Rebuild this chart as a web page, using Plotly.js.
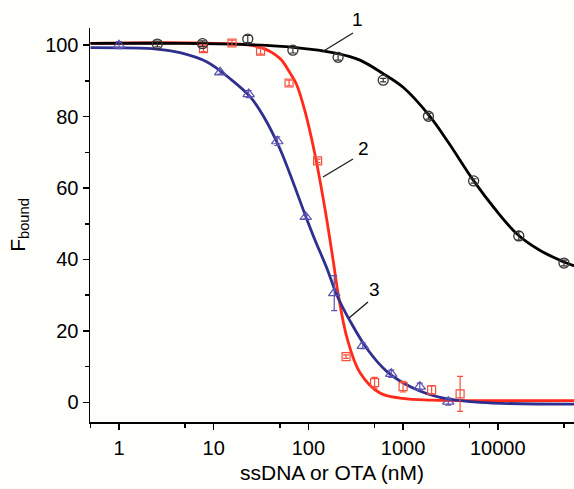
<!DOCTYPE html>
<html>
<head>
<meta charset="utf-8">
<script src="https://cdn.plot.ly/plotly-3.0.1.min.js"></script>
<style>html,body{margin:0;padding:0;background:#fefefb;}#chart{width:574px;height:489px;}</style>
</head>
<body>
<div id="chart"></div>
<script>
// Series 1 (black circles)
const conc1 = [2.54, 7.62, 22.9, 68.6, 206, 617, 1852, 5556, 16667, 50000];
const f1    = [100.3, 100.4, 101.7, 98.6, 96.6, 90.2, 80.1, 62.0, 46.6, 39.0];
const err1  = [0.8, 0.8, 1.0, 0.8, 0.8, 0.5, 0.8, 0.6, 1.2, 0.8];
// Series 2 (red squares)
const conc2 = [7.8, 15.6, 31.25, 62.5, 125, 250, 500, 1000, 2000, 4000];
const f2    = [99.0, 100.6, 98.3, 89.4, 67.6, 12.8, 5.5, 4.4, 3.5, 2.4];
const err2  = [0.8, 0.8, 0.8, 0.8, 0.5, 0.5, 1.5, 1.5, 1.2, 4.9];
// Series 3 (blue triangles)
const conc3 = [1, 11.7, 23.4, 46.9, 93.8, 187.5, 375, 750, 1500, 3000];
const f3    = [100.0, 92.4, 86.3, 73.1, 51.9, 30.6, 15.8, 8.0, 4.4, 0.2];
const err3  = [1.0, 0.5, 1.0, 1.2, 0.5, 4.9, 0.8, 1.0, 1.0, 1.0];
// Fitted curves
const fitX1 = [0.5, 5, 20, 70, 200, 350, 600, 1000, 1900, 3000, 5500, 9300, 16300, 28000, 50000, 64000];
const fitY1 = [100.5, 100.5, 100.2, 99.4, 97.7, 95.8, 92.2, 88.2, 80.2, 72.8, 62.2, 54.2, 46.9, 42.5, 39.3, 38.2];
const fitX2 = [0.5, 10, 30, 50, 62, 75, 92, 117, 150, 182, 206, 256, 351, 570, 927, 2070, 6460, 64000];
const fitY2 = [100.5, 100.5, 99.5, 96.3, 92.8, 89.0, 81.5, 69.5, 54.0, 40.0, 30.5, 18.0, 8.3, 2.6, 1.2, 0.6, 0.5, 0.5];
const fitX3 = [0.5, 2.5, 4.4, 8.5, 14.9, 24.2, 33.2, 50, 96.7, 117, 157, 200, 275, 416, 676, 1273, 2455, 6460, 64000];
const fitY3 = [99.3, 98.9, 97.9, 95.3, 90.6, 85.6, 80.3, 71.0, 51.1, 45.5, 37.5, 30.0, 22.8, 15.0, 8.6, 4.0, 1.4, 0.0, -0.5];
// Axis ticks
const xTicks = [1, 10, 100, 1000, 10000];
const xTickText = ['1', '10', '100', '1000', '10000'];
const xMinor = [0.5, 5, 50, 500, 5000, 50000];
const yTicks = [0, 20, 40, 60, 80, 100];
const labels = ['1', '2', '3'];

const lineW = 2.8;
const traces = [
  {x: fitX2, y: fitY2, mode: 'lines', line: {color: '#ff2a1a', width: lineW, shape: 'spline'}, hoverinfo: 'skip'},
  {x: fitX3, y: fitY3, mode: 'lines', line: {color: '#2f2f8f', width: lineW, shape: 'spline'}, hoverinfo: 'skip'},
  {x: fitX1, y: fitY1, mode: 'lines', line: {color: '#000000', width: lineW, shape: 'spline'}, hoverinfo: 'skip'},
  {x: conc2, y: f2, mode: 'markers',
   marker: {symbol: 'square-open', size: 8, color: '#f5503f', line: {width: 1.2}},
   error_y: {type: 'data', array: err2, color: '#f5503f', thickness: 1.2, width: 3}},
  {x: conc3, y: f3, mode: 'markers',
   marker: {symbol: 'triangle-up-open', size: 10, color: '#5b52b0', line: {width: 1.2}},
   error_y: {type: 'data', array: err3, color: '#5b52b0', thickness: 1.2, width: 3}},
  {x: conc1, y: f1, mode: 'markers',
   marker: {symbol: 'circle-open', size: 10, color: '#333333', line: {width: 1.3}},
   error_y: {type: 'data', array: err1, color: '#333333', thickness: 1.2, width: 3}}
];

const L = 90, R = 0, T = 28, B = 67, W = 574, H = 489;
const pw = W - L - R, ph = H - T - B;
const px = v => (v - L) / pw;
const py = v => (H - B - v) / ph;

const labelPos = [[357, 19], [363, 148], [374, 289]];
const leaderLines = [[322, 52, 353, 33], [323, 177, 353, 159], [349, 318, 368, 302]];

const annotations = labels.map((t, i) => ({
  text: t, xref: 'paper', yref: 'paper', x: px(labelPos[i][0]), y: py(labelPos[i][1]),
  showarrow: false, xanchor: 'center', yanchor: 'middle',
  font: {family: 'Liberation Sans, Arial, sans-serif', size: 19, color: '#000'}
}));
const shapes = leaderLines.map(s => ({
  type: 'line', xref: 'paper', yref: 'paper',
  x0: px(s[0]), y0: py(s[1]), x1: px(s[2]), y1: py(s[3]),
  line: {color: '#222', width: 1.4}
}));

const layout = {
  width: W, height: H,
  margin: {l: L, r: R, t: T, b: B},
  paper_bgcolor: '#fefefb', plot_bgcolor: '#fefefb',
  showlegend: false,
  font: {family: 'Liberation Sans, Arial, sans-serif', color: '#000'},
  xaxis: {
    type: 'log', range: [Math.log10(0.494), Math.log10(63800)],
    tickvals: xTicks, ticktext: xTickText,
    ticks: 'outside', ticklen: 6, tickwidth: 1.5, tickcolor: '#000',
    minor: {tickvals: xMinor, ticks: 'outside', ticklen: 4, tickwidth: 1.5, tickcolor: '#000'},
    showline: true, linecolor: '#000', linewidth: 1.5, showgrid: false, zeroline: false,
    tickfont: {size: 20}, ticklabelstandoff: 1,
    title: {text: 'ssDNA or OTA (nM)', font: {size: 21}, standoff: 8}
  },
  yaxis: {
    range: [-5.5, 104.8],
    tickvals: yTicks,
    ticks: 'outside', ticklen: 6, tickwidth: 1.5, tickcolor: '#000',
    minor: {dtick: 10, tick0: 0, ticks: 'outside', ticklen: 4, tickwidth: 1.5, tickcolor: '#000'},
    showline: true, linecolor: '#000', linewidth: 1.5, showgrid: false, zeroline: false,
    tickfont: {size: 20},
    title: {text: 'F<sub>bound</sub>', font: {size: 21}, standoff: 14}
  },
  annotations: annotations,
  shapes: shapes
};

Plotly.newPlot('chart', traces, layout, {displayModeBar: false, staticPlot: true});
</script>
</body>
</html>
